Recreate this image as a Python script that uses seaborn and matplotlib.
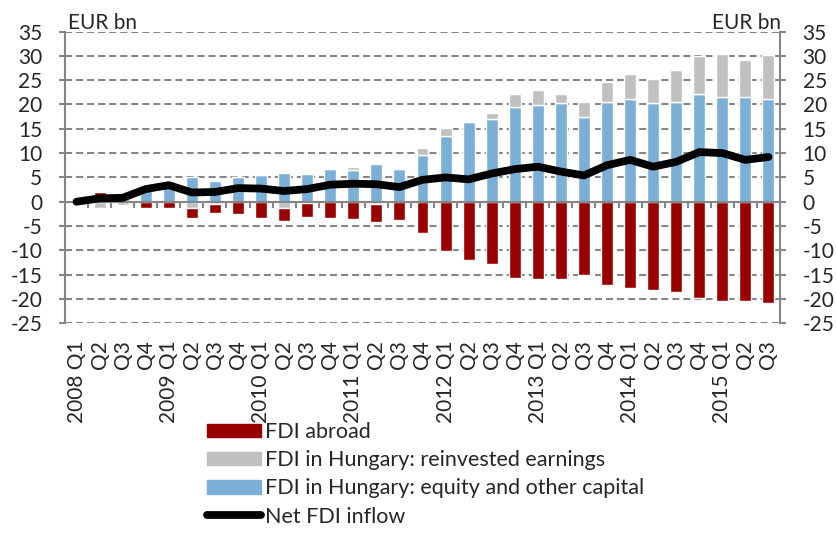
import numpy as np
import matplotlib
matplotlib.use("Agg")
import matplotlib.pyplot as plt
from matplotlib.lines import Line2D
from matplotlib.patches import Patch
import seaborn as sns

# quarters 2008 Q1 .. 2015 Q3
quarters = ["2008 Q1", "Q2", "Q3", "Q4",
            "2009 Q1", "Q2", "Q3", "Q4",
            "2010 Q1", "Q2", "Q3", "Q4",
            "2011 Q1", "Q2", "Q3", "Q4",
            "2012 Q1", "Q2", "Q3", "Q4",
            "2013 Q1", "Q2", "Q3", "Q4",
            "2014 Q1", "Q2", "Q3", "Q4",
            "2015 Q1", "Q2", "Q3"]

# EUR bn
equity = [0.0, 0.0, 1.0, 3.4, 4.3, 5.0, 4.2, 5.0, 5.4, 5.85, 5.8, 6.8, 6.5, 7.7, 6.7, 9.6,
          13.6, 16.3, 16.95, 19.55, 19.9, 20.2, 17.5, 20.6, 21.1, 20.4, 20.6, 22.2, 21.6, 21.6, 21.1]
reinvested = [0.0, -1.2, -0.7, 0.2, 0.0, -1.3, -0.4, 0.0, 0.4, -1.3, -0.3, 0.0, 0.6, -0.5, 0.2, 1.4,
              1.6, 0.3, 1.35, 2.65, 3.1, 2.0, 3.0, 4.1, 5.2, 4.8, 6.4, 7.8, 8.8, 7.6, 9.1]
abroad = [0.0, 2.1, -0.2, -1.2, -1.3, -2.0, -2.0, -2.5, -3.4, -2.6, -2.9, -3.4, -3.6, -3.7, -3.8, -6.5,
          -10.1, -12.0, -12.9, -15.6, -15.9, -15.9, -15.0, -17.1, -17.7, -18.1, -18.6, -19.7, -20.4, -20.4, -20.9]
net_inflow = [0.0, 0.7, 0.8, 2.6, 3.4, 1.9, 2.0, 2.8, 2.7, 2.2, 2.6, 3.5, 3.7, 3.6, 3.0, 4.5,
              5.0, 4.6, 5.8, 6.7, 7.2, 6.2, 5.4, 7.5, 8.6, 7.2, 8.2, 10.2, 10.0, 8.6, 9.2]

c_abroad = "#990000"
c_reinv = "#C0C0C0"
c_equity = "#7BAFD6"
c_axis = "#868686"

sns.set_style("white")
plt.rcParams["font.family"] = ["Lato", "DejaVu Sans"]
plt.rcParams["font.size"] = 15

fig = plt.figure(figsize=(8.36, 5.33), dpi=100)
ax = fig.add_axes([65 / 836, 1 - 323.3 / 533, 715 / 836, 291.8 / 533])

x = np.arange(len(quarters))
pos = np.zeros(len(x))
neg = np.zeros(len(x))
for vals, col in [(equity, c_equity), (reinvested, c_reinv), (abroad, c_abroad)]:
    v = np.array(vals)
    bottom = np.where(v >= 0, pos, neg)
    ax.bar(x, v, bottom=bottom, width=0.52, color=col, zorder=2)
    pos = pos + np.where(v >= 0, v, 0)
    neg = neg + np.where(v < 0, v, 0)

sns.lineplot(x=x, y=net_inflow, ax=ax, color="black", linewidth=5.6,
             solid_capstyle="round", solid_joinstyle="round", zorder=4)

ax.set_xlim(-0.5, len(x) - 0.5)
ax.set_ylim(-25, 35)
yt = np.arange(-25, 36, 5)
ax.set_yticks(yt)
ax.set_yticklabels([str(v) for v in yt])
for v in yt:
    if v != 0:
        ax.axhline(v, color=c_axis, lw=1.5, ls=(0, (3.4, 1.9)), zorder=1)
ax.axhline(0, color=c_axis, lw=1.5, zorder=3)

ax.set_xticks(x)
ax.set_xticklabels(quarters, rotation=90)
ax.tick_params(axis="x", length=0, pad=12)
ax.tick_params(axis="y", length=4.3, width=1.5, color=c_axis, direction="out",
               left=True, right=True, labelleft=True, labelright=True, pad=12)

for s in ["top", "bottom"]:
    ax.spines[s].set_visible(False)
for s in ["left", "right"]:
    ax.spines[s].set_color(c_axis)
    ax.spines[s].set_linewidth(1.5)

# category ticks on the zero line
sec = ax.secondary_xaxis(25 / 60)
sec.set_xticks(x[:-1] + 0.5)
sec.tick_params(length=4.5, width=1.5, color=c_axis, direction="out", labelbottom=False, labeltop=False)
sec.spines["bottom"].set_visible(False)
sec.spines["top"].set_visible(False)

fig.text(68 / 836, 1 - 29 / 533, "EUR bn", ha="left", va="baseline", fontsize=15)
fig.text(781 / 836, 1 - 29 / 533, "EUR bn", ha="right", va="baseline", fontsize=15)

handles = [Patch(color=c_abroad), Patch(color=c_reinv), Patch(color=c_equity),
           Line2D([], [], color="black", lw=5.6, solid_capstyle="round")]
labels = ["FDI abroad", "FDI in Hungary: reinvested earnings",
          "FDI in Hungary: equity and other capital", "Net FDI inflow"]
fig.legend(handles, labels, loc="upper left", bbox_to_anchor=(207 / 836, 1 - 422 / 533),
           frameon=False, handlelength=2.5, handleheight=0.6, handletextpad=0.2,
           labelspacing=0.38, borderaxespad=0, borderpad=0, fontsize=15.5)

fig.savefig("out.png", dpi=100)
